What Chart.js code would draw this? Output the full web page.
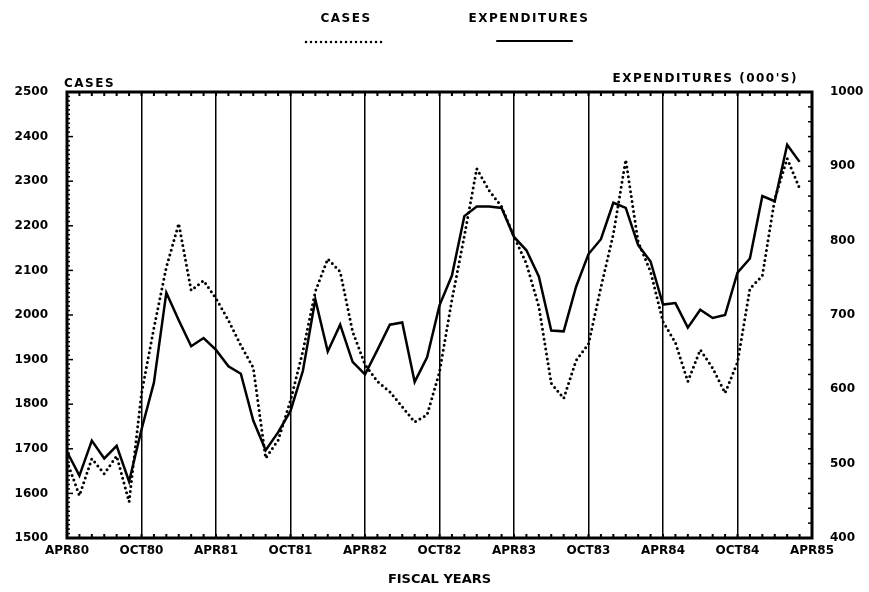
<!DOCTYPE html>
<html>
<head>
<meta charset="utf-8">
<script src="https://cdn.jsdelivr.net/npm/chart.js@4"></script>
<style>
  html, body { margin: 0; padding: 0; background: #fff; }
  #wrap { width: 869px; height: 592px; }
</style>
</head>
<body>
<div id="wrap"><canvas id="grafico" width="869" height="592"></canvas></div>
<script>
// === Dados (mensais, APR80 a MAR85) ===
const tickLabels = ['APR80', 'OCT80', 'APR81', 'OCT81', 'APR82', 'OCT82',
                    'APR83', 'OCT83', 'APR84', 'OCT84', 'APR85'];

const cases = [1672, 1595, 1678, 1644, 1684, 1581, 1824, 1971, 2107, 2205,
               2055, 2077, 2037, 1988, 1932, 1882, 1679, 1719, 1808, 1919,
               2053, 2126, 2097, 1963, 1889, 1851, 1828, 1794, 1760, 1776,
               1872, 2034, 2177, 2328, 2279, 2243, 2176, 2115, 2019, 1847,
               1813, 1898, 1935, 2062, 2181, 2348, 2164, 2097, 1985, 1938,
               1851, 1922, 1881, 1825, 1894, 2059, 2088, 2260, 2351, 2284];

const expenditures = [516, 484, 531, 507, 524, 476, 546, 609, 730, 693,
                      658, 669, 653, 631, 621, 558, 518, 542, 571, 625,
                      721, 651, 687, 637, 620, 653, 687, 690, 610, 643,
                      713, 753, 833, 846, 846, 844, 805, 787, 752, 679,
                      678, 738, 782, 802, 851, 844, 794, 772, 714, 716,
                      683, 707, 696, 700, 757, 776, 860, 853, 929, 906];

const casesTicks = [1500, 2500, 100];
const expTicks = [400, 1000, 100];

// um rótulo por mês, só os de abril/outubro aparecem
const monthLabels = [];
for (let i = 0; i <= 60; i++) {
  monthLabels.push(i % 6 === 0 ? tickLabels[i / 6] : '');
}

const FONTE = 'DejaVu Sans';
Chart.defaults.font.family = FONTE;
Chart.defaults.font.weight = 'bold';
Chart.defaults.font.size = 12;
Chart.defaults.color = '#000';

// === Moldura, marcas internas, legenda e títulos ===
const moldura = {
  id: 'moldura',
  afterDraw(chart) {
    const ctx = chart.ctx;
    const a = chart.chartArea;
    const xs = chart.scales.x, yl = chart.scales.y, yr = chart.scales.y1;
    ctx.save();
    ctx.strokeStyle = '#000';

    // marcas mensais em cima e em baixo
    ctx.lineWidth = 2;
    for (let i = 1; i < 60; i++) {
      const x = xs.getPixelForTick(i);
      ctx.beginPath();
      ctx.moveTo(x, a.top); ctx.lineTo(x, a.top + 4);
      ctx.moveTo(x, a.bottom); ctx.lineTo(x, a.bottom - 4);
      ctx.stroke();
    }
    // marcas do eixo esquerdo
    ctx.lineWidth = 1.5;
    for (let v = casesTicks[0] + 10; v < casesTicks[1]; v += 10) {
      const y = yl.getPixelForValue(v);
      const len = v % 100 === 0 ? 6 : 3;
      ctx.beginPath();
      ctx.moveTo(a.left, y); ctx.lineTo(a.left + len, y);
      ctx.stroke();
    }
    // marcas do eixo direito
    for (let v = expTicks[0] + 20; v < expTicks[1]; v += 20) {
      const y = yr.getPixelForValue(v);
      ctx.beginPath();
      ctx.moveTo(a.right, y); ctx.lineTo(a.right - 4, y);
      ctx.stroke();
    }

    // moldura grossa
    ctx.lineWidth = 3;
    ctx.strokeRect(a.left, a.top, a.right - a.left, a.bottom - a.top);

    // títulos dos eixos verticais
    ctx.fillStyle = '#000';
    ctx.font = 'bold 12px ' + FONTE;
    ctx.letterSpacing = '1.5px';
    ctx.textBaseline = 'alphabetic';
    ctx.textAlign = 'left';
    ctx.fillText('CASES', 64, 87);
    ctx.textAlign = 'right';
    ctx.fillText("EXPENDITURES (000'S)", 798, 82);

    // legenda: texto em cima, amostra de linha embaixo
    ctx.textAlign = 'center';
    ctx.fillText('CASES', 346, 22);
    ctx.fillText('EXPENDITURES', 529, 22);
    ctx.letterSpacing = '0px';
    ctx.lineCap = 'round';
    ctx.lineWidth = 2.5;
    ctx.setLineDash([0, 5]);
    ctx.beginPath(); ctx.moveTo(306, 42); ctx.lineTo(382, 42); ctx.stroke();
    ctx.setLineDash([]);
    ctx.lineWidth = 2;
    ctx.beginPath(); ctx.moveTo(497, 41); ctx.lineTo(572, 41); ctx.stroke();
    ctx.restore();
  }
};

new Chart(document.getElementById('grafico'), {
  type: 'line',
  data: {
    labels: monthLabels,
    datasets: [{
      label: 'CASES',
      data: cases,
      yAxisID: 'y',
      borderColor: '#000',
      borderWidth: 3,
      borderDash: [0, 5],
      borderCapStyle: 'round',
      pointRadius: 0,
      tension: 0
    }, {
      label: 'EXPENDITURES',
      data: expenditures,
      yAxisID: 'y1',
      borderColor: '#000',
      borderWidth: 2.5,
      pointRadius: 0,
      tension: 0
    }]
  },
  options: {
    responsive: false,
    animation: false,
    layout: { padding: { top: 92, left: 0, right: 0, bottom: 0 } },
    plugins: {
      legend: { display: false },
      tooltip: { enabled: false }
    },
    scales: {
      x: {
        offset: false,
        afterFit: (s) => { s.height = 54; },
        grid: {
          drawTicks: false,
          lineWidth: 1.5,
          color: (c) => (c.index % 6 === 0 && c.index > 0 && c.index < 60) ? '#000' : 'rgba(0,0,0,0)'
        },
        border: { display: false },
        ticks: { autoSkip: false, maxRotation: 0, padding: 6, font: { size: 12, weight: 'bold' } },
        title: { display: true, text: 'FISCAL YEARS', font: { size: 13, weight: 'bold' }, padding: { top: 4, bottom: 5 } }
      },
      y: {
        position: 'left',
        min: casesTicks[0],
        max: casesTicks[1],
        afterFit: (s) => { s.width = 67; },
        grid: { display: false, drawTicks: false },
        border: { display: false },
        ticks: { stepSize: casesTicks[2], padding: 19, callback: (v) => String(v), font: { size: 12, weight: 'bold' } }
      },
      y1: {
        position: 'right',
        min: expTicks[0],
        max: expTicks[1],
        afterFit: (s) => { s.width = 57; },
        grid: { display: false, drawTicks: false },
        border: { display: false },
        ticks: { stepSize: expTicks[2], padding: 18, callback: (v) => String(v), font: { size: 12, weight: 'bold' } }
      }
    }
  },
  plugins: [moldura]
});
</script>
</body>
</html>
